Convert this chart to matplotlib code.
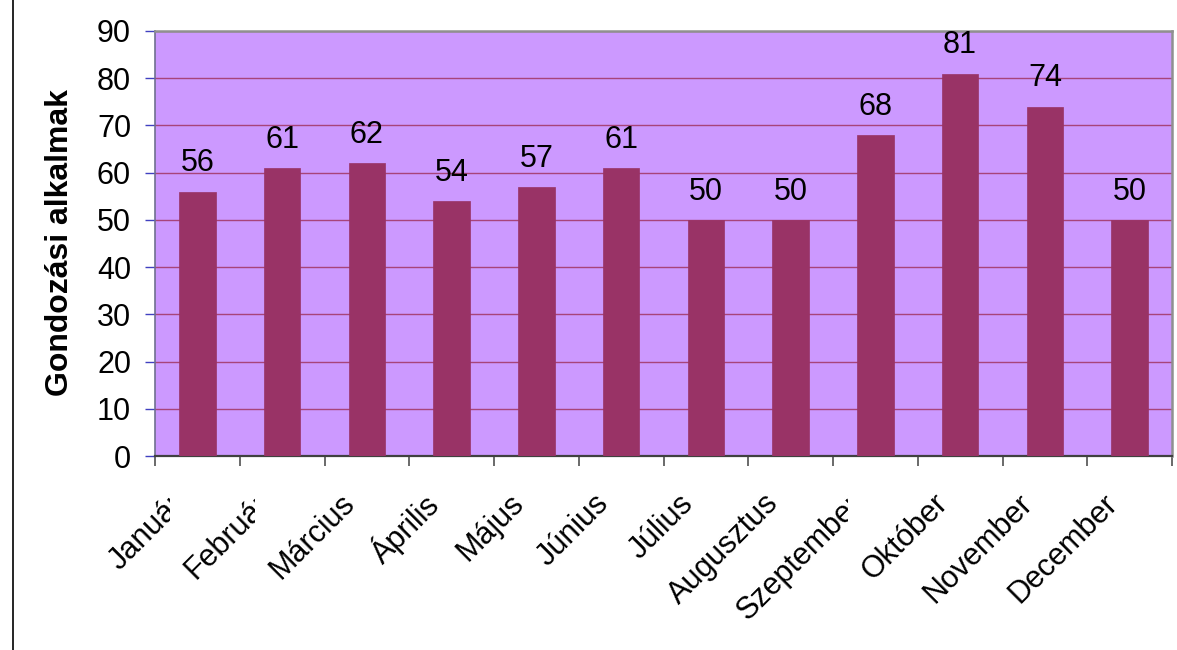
import matplotlib
matplotlib.use("Agg")
import matplotlib.pyplot as plt
from matplotlib.transforms import ScaledTranslation, Bbox, TransformedBbox, blended_transform_factory
from matplotlib.lines import Line2D

months = ['Január', 'Február', 'Március', 'Április', 'Május', 'Június',
          'Július', 'Augusztus', 'Szeptember', 'Október', 'November', 'December']
values = [56, 61, 62, 54, 57, 61, 50, 50, 68, 81, 74, 50]
y_label = 'Gondozási alkalmak'
y_ticks = [0, 10, 20, 30, 40, 50, 60, 70, 80, 90]
clipped_labels = ['Január', 'Február', 'Szeptember']

plt.rcParams['font.family'] = ['Liberation Sans', 'DejaVu Sans']
FS = 22

fig = plt.figure(figsize=(11.77, 6.5), dpi=100)
W, H = 1177, 650
ax = fig.add_axes([155 / W, 1 - 456 / H, (1172 - 155) / W, (456 - 31) / H])
ax.set_facecolor('#CC99FF')

x = list(range(len(months)))
ax.bar(x, values, width=0.43, color='#993366', edgecolor='#993366', linewidth=0.5, zorder=3)

for xi, v in zip(x, values):
    ax.annotate(str(v), (xi, v), xytext=(0, 9.5), textcoords='offset points',
                ha='center', va='bottom', fontsize=FS, color='black', zorder=4)

ax.set_xlim(-0.5, len(months) - 0.5)
ax.set_ylim(0, 90)
ax.set_yticks(y_ticks)
ax.set_yticklabels([str(t) for t in y_ticks], fontsize=FS)
ax.yaxis.grid(True, color='#A8447A', linewidth=1.0, zorder=1)
ax.set_axisbelow(True)
ax.tick_params(axis='y', direction='out', length=7.2, width=1, color='#4040C0', pad=10)

# x ticks: labels at centres, tick marks at boundaries
ax.set_xticks(x)
ax.set_xticklabels(months, fontsize=FS, rotation=45, ha='right', va='center',
                   rotation_mode='anchor')
ax.set_xticks([i - 0.5 for i in range(len(months) + 1)], minor=True)
ax.tick_params(axis='x', which='major', length=0, pad=31)
ax.tick_params(axis='x', which='minor', direction='out', length=7.2, width=1.2, color='#505050')

shift = ScaledTranslation(-17 / 100, 0, fig.dpi_scale_trans)
bt = blended_transform_factory(ax.transData, ax.transAxes)
for i, lab in enumerate(ax.get_xticklabels()):
    lab.set_transform(lab.get_transform() + shift)
    if months[i] in clipped_labels:
        cb = TransformedBbox(Bbox([[-5, -2], [i - 0.32, 2]]), bt)
        lab.set_clip_box(cb)
        lab.set_clip_on(True)

for s in ['top', 'right']:
    ax.spines[s].set_color('#909090')
    ax.spines[s].set_linewidth(1.8)
ax.spines['left'].set_color('#707090')
ax.spines['left'].set_linewidth(1.2)
ax.spines['bottom'].set_color('#404040')
ax.spines['bottom'].set_linewidth(1.6)

fig.text(60.5 / W, 1 - 242.5 / H, y_label, rotation=90, ha='center', va='center',
         fontsize=23, fontweight='bold')

fig.add_artist(Line2D([13 / W, 13 / W], [0, 1], color='black', linewidth=1.2,
                      transform=fig.transFigure))

fig.savefig('out.png', dpi=100)
